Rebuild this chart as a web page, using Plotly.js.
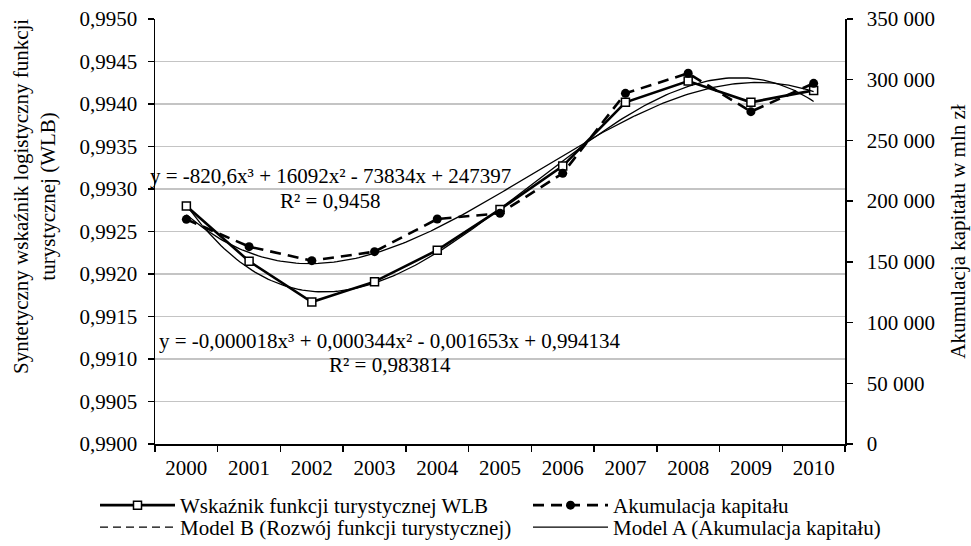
<!DOCTYPE html>
<html>
<head>
<meta charset="utf-8">
<script src="https://cdn.plot.ly/plotly-3.0.1.min.js"></script>
<style>html,body{margin:0;padding:0;background:#fff;}#chart{width:971px;height:546px;}</style>
</head>
<body>
<div id="chart"></div>
<script>
// ---- data ----
var years = ['2000','2001','2002','2003','2004','2005','2006','2007','2008','2009','2010'];
var wlb = [0.99280, 0.99215, 0.99167, 0.99191, 0.99228, 0.99276, 0.99327, 0.99402, 0.99427, 0.99402, 0.99416];
var capital = [185000, 162500, 151000, 158400, 185300, 190000, 222900, 288800, 305300, 273700, 297000];
// trend-line equations shown on the chart (x = 1..11)
var modelACoef = [-820.6, 16092, -73834, 247397];             // capital fit, R² = 0,9458
var eqB = 'y = -0,000018x³ + 0,000344x² - 0,001653x + 0,994134';
var r2B = 'R² = 0,983814';
var eqA = 'y = -820,6x³ + 16092x² - 73834x + 247397';
var r2A = 'R² = 0,9458';
var names = ['Wskaźnik funkcji turystycznej WLB', 'Akumulacja kapitału',
             'Model B (Rozwój funkcji turystycznej)', 'Model A (Akumulacja kapitału)'];

var xi = years.map(function(_, i){ return i + 1; });

// least-squares cubic trend (as a spreadsheet trendline does)
function fitCubic(xv, yv){
  var n = 4, M = [], b = [];
  var ym = yv.reduce(function(a, v){ return a + v; }, 0) / yv.length;
  for (var r = 0; r < n; r++){ M.push([0,0,0,0]); b.push(0); }
  for (var i = 0; i < xv.length; i++){
    var p = [Math.pow(xv[i],3), Math.pow(xv[i],2), xv[i], 1];
    for (var r2 = 0; r2 < n; r2++){
      b[r2] += p[r2] * (yv[i] - ym);
      for (var c = 0; c < n; c++) M[r2][c] += p[r2] * p[c];
    }
  }
  for (var k = 0; k < n; k++){
    var piv = k;
    for (var r3 = k+1; r3 < n; r3++) if (Math.abs(M[r3][k]) > Math.abs(M[piv][k])) piv = r3;
    var t = M[k]; M[k] = M[piv]; M[piv] = t; var tb = b[k]; b[k] = b[piv]; b[piv] = tb;
    for (var r4 = k+1; r4 < n; r4++){
      var f = M[r4][k] / M[k][k];
      for (var c2 = k; c2 < n; c2++) M[r4][c2] -= f * M[k][c2];
      b[r4] -= f * b[k];
    }
  }
  var sol = [0,0,0,0];
  for (var k2 = n-1; k2 >= 0; k2--){
    var s = b[k2];
    for (var c3 = k2+1; c3 < n; c3++) s -= M[k2][c3] * sol[c3];
    sol[k2] = s / M[k2][k2];
  }
  sol[3] += ym;
  return sol;
}
function cubic(c, x){ return ((c[0]*x + c[1])*x + c[2])*x + c[3]; }
var modelBCoef = fitCubic(xi, wlb);

var xs = [];
for (var k = 0; k <= 200; k++) xs.push(1 + k*10/200);
var fitB = xs.map(function(x){ return cubic(modelBCoef, x); });
var fitA = xs.map(function(x){ return cubic(modelACoef, x); });

var FONT = "'Liberation Serif', 'Times New Roman', Times, serif";
var FS = 21;

var traces = [
  {x: xs, y: fitA, yaxis: 'y2', mode: 'lines', name: names[3], legend: 'legend4',
   line: {color: '#000', width: 1.3}, hoverinfo: 'skip'},
  {x: xs, y: fitB, yaxis: 'y', mode: 'lines', name: names[2], showlegend: false,
   line: {color: '#000', width: 1.3}, hoverinfo: 'skip'},
  {x: xi, y: capital, yaxis: 'y2', mode: 'lines+markers', name: names[1], legend: 'legend2',
   line: {color: '#000', width: 2.6, dash: '11px,7px'},
   marker: {symbol: 'circle', size: 9, color: '#000'}},
  {x: xi, y: wlb, yaxis: 'y', mode: 'lines+markers', name: names[0], legend: 'legend',
   line: {color: '#000', width: 2.6},
   marker: {symbol: 'square', size: 8, color: '#fff', line: {color: '#000', width: 1.5}}},
  {x: [null], y: [null], yaxis: 'y', mode: 'lines', name: names[2], legend: 'legend3',
   line: {color: '#000', width: 1.3, dash: '8px,5px'}}
];

// plot area: x 155..845, y 19..444
function lx(px){ return (px - 155) / 690; }
function ly(py){ return (444 - py) / 425; }
var T1 = 485, T2 = 507;   // legend row tops (px)
function leg(xpx, topPx){
  return {xref: 'paper', yref: 'container', x: lx(xpx), y: 1 - topPx/546, xanchor: 'left', yanchor: 'top',
          orientation: 'v', font: {family: FONT, size: FS, color: '#000'}, itemwidth: 75,
          bgcolor: 'rgba(0,0,0,0)', borderwidth: 0};
}

var layout = {
  width: 971, height: 546,
  margin: {l: 155, r: 126, t: 19, b: 102},
  paper_bgcolor: '#fff', plot_bgcolor: '#fff',
  separators: ', ',
  font: {family: FONT, size: FS, color: '#000'},
  showlegend: true,
  xaxis: {
    range: [0.5, 11.5], tickmode: 'array', tickvals: xi, ticktext: years,
    ticks: '', showgrid: false, zeroline: false,
    showline: true, linecolor: '#000', linewidth: 1.5,
    minor: {ticks: 'outside', tick0: 0.5, dtick: 1, ticklen: 6, tickcolor: '#000', tickwidth: 1.5, showgrid: false},
    tickfont: {family: FONT, size: FS, color: '#000'}, ticklabelstandoff: 4
  },
  yaxis: {
    range: [0.99, 0.995], tick0: 0.99, dtick: 0.0005, tickformat: '.4f',
    showgrid: true, gridcolor: '#c4c4c4', gridwidth: 1.5, zeroline: false,
    ticks: 'outside', ticklen: 6, tickwidth: 1.5, tickcolor: '#000',
    showline: true, linecolor: '#000', linewidth: 1.5,
    tickfont: {family: FONT, size: FS, color: '#000'}, ticklabelstandoff: 6
  },
  yaxis2: {
    overlaying: 'y', side: 'right', anchor: 'x',
    range: [0, 350000], tick0: 0, dtick: 50000, tickformat: ',.0f',
    showgrid: false, zeroline: false,
    ticks: 'outside', ticklen: 6, tickwidth: 1.5, tickcolor: '#000',
    showline: true, linecolor: '#000', linewidth: 1.5,
    tickfont: {family: FONT, size: FS, color: '#000'}, ticklabelstandoff: 10,
    title: {text: 'Akumulacja kapitału w mln zł', font: {family: FONT, size: FS, color: '#000'}, standoff: 16}
  },
  legend: leg(95, T1),
  legend2: leg(528, T1),
  legend3: leg(95, T2),
  legend4: leg(528, T2),
  annotations: [
    {text: 'Syntetyczny wskaźnik logistyczny funkcji<br>turystycznej (WLB)', xref: 'paper', yref: 'paper',
     x: lx(34), y: ly(197), xanchor: 'center', yanchor: 'middle', textangle: -90, showarrow: false,
     font: {family: FONT, size: FS, color: '#000'}},
    {text: eqA, xref: 'x', yref: 'y', x: 3.29, y: 0.99315, xanchor: 'center', yanchor: 'middle', showarrow: false,
     font: {family: FONT, size: FS, color: '#000'}},
    {text: r2A, xref: 'x', yref: 'y', x: 3.29, y: 0.99286, xanchor: 'center', yanchor: 'middle', showarrow: false,
     font: {family: FONT, size: FS, color: '#000'}},
    {text: eqB, xref: 'x', yref: 'y', x: 4.24, y: 0.99121, xanchor: 'center', yanchor: 'middle', showarrow: false,
     font: {family: FONT, size: FS, color: '#000'}},
    {text: r2B, xref: 'x', yref: 'y', x: 4.24, y: 0.99093, xanchor: 'center', yanchor: 'middle', showarrow: false,
     font: {family: FONT, size: FS, color: '#000'}}
  ]
};

Plotly.newPlot('chart', traces, layout, {staticPlot: true, displayModeBar: false});
</script>
</body>
</html>
